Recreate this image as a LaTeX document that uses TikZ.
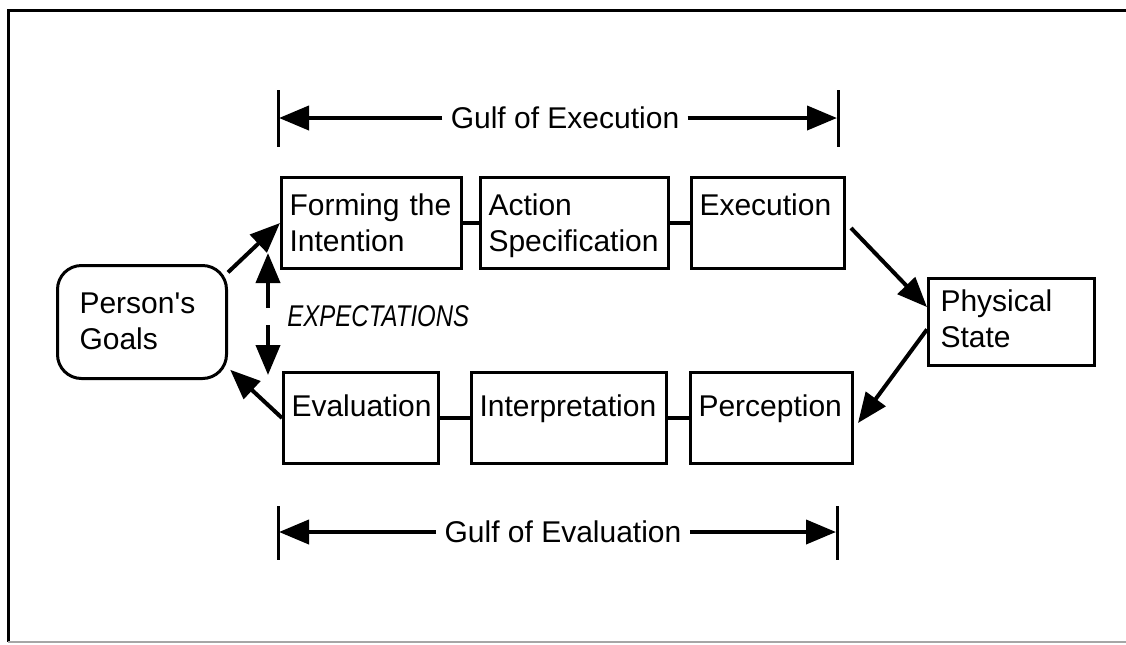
\documentclass[tikz,border=0pt]{standalone}
\usepackage{fontspec}
\setmainfont{Liberation Sans}
\usetikzlibrary{arrows.meta}

\newcommand{\diagfont}{\fontsize{15pt}{18pt}\selectfont}

\tikzset{
    stage/.style={draw, line width=1.5pt, anchor=north west, align=left,
        inner xsep=4pt, inner ysep=0pt, text height=19pt, text depth=26.5pt},
    goalbox/.style={stage, rounded corners=12pt, inner xsep=11pt},
    link/.style={line width=1.6pt},
    arr/.style={line width=2pt, -{Triangle[length=15pt, width=12pt]}},
    bar/.style={line width=1.5pt},
    gulf/.style={inner xsep=4pt, inner ysep=0pt},
}

\begin{document}
\begin{tikzpicture}[x=0.5pt, y=-0.5pt, font=\diagfont]
    \useasboundingbox (0, 0) rectangle (1126, 644);

    % frame
    \draw[line width=1.5pt] (1130, 10) -- (8, 10) -- (8, 642);
    \draw[black!35, line width=0.8pt] (8, 642) -- (1130, 642);

    % gulf of execution
    \draw[bar] (278, 90) to (278, 147);
    \draw[bar] (838, 90) to (838, 147);
    \coordinate (gex-l) at (279, 118);
    \coordinate (gex-r) at (837, 118);
    \node[gulf] (gex) at (565, 118) {Gulf of Execution};
    \draw[arr] (gex.west) -- (gex-l);
    \draw[arr] (gex.east) -- (gex-r);

    % upper row
    \node[stage, text width=82pt] (form) at (280, 176) {Forming the\\Intention};
    \node[stage, text width=86pt] (spec) at (479, 176) {Action\\Specification};
    \node[stage, text width=68.5pt] (exec) at (690, 176) {Execution};
        \draw[link] (form.east) -- (spec.west);
        \draw[link] (spec.east) -- (exec.west);

    % goals and physical state
    \node[goalbox, text width=62.5pt, text height=24pt, text depth=32.5pt]
        (goals) at (56, 264) {Person\textquotesingle s\\Goals};
    \node[stage, inner xsep=6pt, text width=71pt, text height=16.5pt, text depth=27pt]
        (phys) at (927, 277) {Physical\\State};

    % lower row
    \node[stage, text width=69.5pt, text height=22pt, text depth=23.5pt]
        (eval) at (282, 371) {Evaluation};
    \node[stage, text width=89.5pt, text height=22pt, text depth=23.5pt]
        (interp) at (470, 371) {Interpretation};
    \node[stage, text width=73pt, text height=22pt, text depth=23.5pt]
        (perc) at (689, 371) {Perception};
        \draw[link] (eval.east) -- (interp.west);
        \draw[link] (interp.east) -- (perc.west);

    % cycle
    \draw[arr] (goals.30) -- (form.west);
    \draw[arr] ([xshift=2.5pt, yshift=-2.5pt]exec.east) -- (phys.170);
    \draw[arr] (phys.185) -- ([xshift=2pt, yshift=-2.5pt]perc.east);
    \draw[arr, shorten >=1.5pt] (eval.west) -- (goals.-28);

    % expectations
    \node[anchor=west, font=\diagfont\itshape, inner sep=0pt]
        (expect) at (287, 316) {\scalebox{0.8}[1]{EXPECTATIONS}};
    \coordinate (exp-a) at (268, 308);
    \coordinate (exp-b) at (268, 325);
    \coordinate (exp-up) at (268, 253);
    \coordinate (exp-dn) at (268, 375);
    \draw[arr] (exp-a) -- (exp-up);
    \draw[arr] (exp-b) -- (exp-dn);

    % gulf of evaluation
    \draw[bar] (278, 506) to (278, 560);
    \draw[bar] (837, 506) to (837, 560);
    \coordinate (gev-l) at (279, 532);
    \coordinate (gev-r) at (836, 532);
    \node[gulf] (gev) at (563, 532) {Gulf of Evaluation};
    \draw[arr] (gev.west) -- (gev-l);
    \draw[arr] (gev.east) -- (gev-r);
\end{tikzpicture}
\end{document}
